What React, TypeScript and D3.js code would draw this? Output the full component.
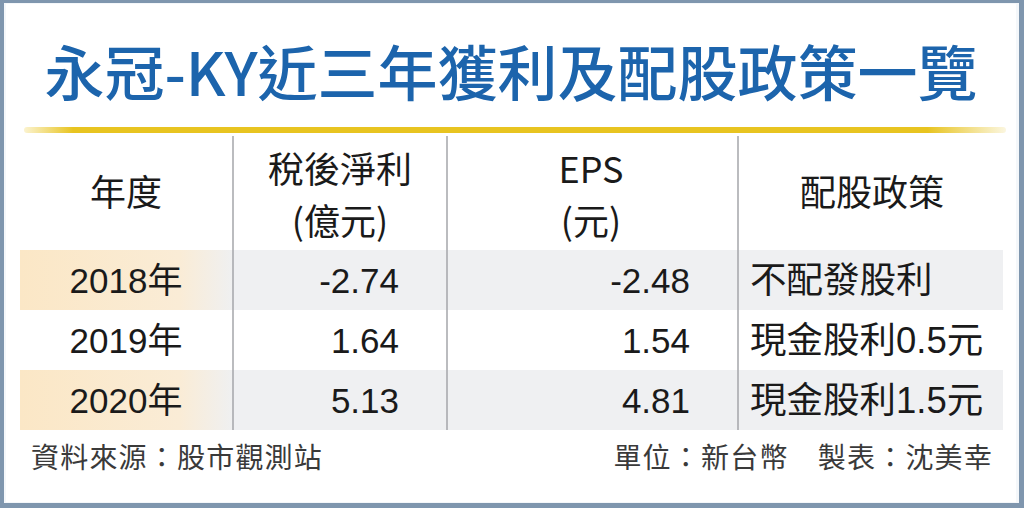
import React, { useRef, useEffect } from 'react';
import * as d3 from 'd3';

const title = '永冠-KY近三年獲利及配股政策一覽';
const headerLines = [['年度'], ['稅後淨利', '(億元)'], ['EPS', '(元)'], ['配股政策']];
const years = ['2018年', '2019年', '2020年'];
const netIncome = [-2.74, 1.64, 5.13];
const eps = [-2.48, 1.54, 4.81];
const policy = ['不配發股利', '現金股利0.5元', '現金股利1.5元'];
const sourceNote = '資料來源：股市觀測站';
const creditNote = '單位：新台幣　製表：沈美幸';

const App: React.FC = () => {
    const svgRef = useRef<SVGSVGElement | null>(null);
    const width = 1024, height = 508;

    useEffect(() => {
        if (!svgRef.current) return;
        const svg = d3.select(svgRef.current);
        svg.selectAll('*').remove();
        svg.attr('viewBox', `0 0 ${width} ${height}`);
        const font = '"Noto Sans CJK TC", "Noto Sans", sans-serif';
        const bodyFont = '"Liberation Sans", "Noto Sans CJK TC", sans-serif';

        const defs = svg.append('defs');
        const gold = defs.append('linearGradient').attr('id', 'gold');
        [[0, '#fbf3d0'], [0.05, '#e8c420'], [0.92, '#e8c420'], [1, '#fbf6e0']].forEach(([o, c]) =>
            gold.append('stop').attr('offset', o as number).attr('stop-color', c as string));
        const peach = defs.append('linearGradient').attr('id', 'peach');
        [[0, '#fbe7c6'], [0.75, '#faecd6'], [1, '#eff0f1']].forEach(([o, c]) =>
            peach.append('stop').attr('offset', o as number).attr('stop-color', c as string));

        // frame
        svg.append('rect').attr('width', width).attr('height', height).attr('fill', '#7f96ae');
        svg.append('rect').attr('x', 4).attr('y', 3).attr('width', width - 9).attr('height', height - 8)
            .attr('fill', '#f4f7fa');
        svg.append('rect').attr('x', 6).attr('y', 4).attr('width', width - 14).attr('height', height - 10)
            .attr('fill', '#ffffff');

        // title
        svg.append('text').attr('x', 511).attr('y', 96).attr('text-anchor', 'middle')
            .attr('font-family', font).attr('font-size', 60).attr('font-weight', 500)
            .attr('fill', '#1c64ac').text(title);
        svg.append('rect').attr('x', 24).attr('y', 127).attr('width', 982).attr('height', 6)
            .attr('rx', 3).attr('fill', 'url(#gold)');

        // layout
        const edges = [20, 233, 447, 738, 1003];
        const rowY = d3.scaleBand<number>().domain(d3.range(years.length)).range([250, 430]);

        // shaded rows
        d3.range(years.length).filter(i => i % 2 === 0).forEach(i => {
            svg.append('rect').attr('x', edges[1]).attr('y', rowY(i)!).attr('width', edges[4] - edges[1])
                .attr('height', rowY.bandwidth()).attr('fill', '#eff0f2');
            svg.append('rect').attr('x', edges[0]).attr('y', rowY(i)!).attr('width', edges[1] - edges[0])
                .attr('height', rowY.bandwidth()).attr('fill', 'url(#peach)');
        });

        // column dividers
        edges.slice(1, 4).forEach(x =>
            svg.append('line').attr('x1', x).attr('x2', x).attr('y1', 136).attr('y2', 430)
                .attr('stroke', '#a4a6aa').attr('stroke-width', 1.5));

        // header
        const headerX = [126, 340, 591, 872];
        headerLines.forEach((lines, c) => {
            const ys = lines.length === 1 ? [193] : [170, 222];
            lines.forEach((t, k) =>
                svg.append('text').attr('x', headerX[c]).attr('y', ys[k]).attr('dy', '0.36em')
                    .attr('text-anchor', 'middle').attr('font-family', font).attr('font-size', 36)
                    .attr('fill', '#1a1a1a').text(t));
        });

        // body
        const fmt = d3.formatLocale({ decimal: '.', thousands: ',', grouping: [3], currency: ['', ''], minus: '-' })
            .format('.2f');
        const cell = (x: number, i: number, t: string, anchor: string, size = 35) =>
            svg.append('text').attr('x', x).attr('y', rowY(i)! + rowY.bandwidth() / 2).attr('dy', '0.36em')
                .attr('text-anchor', anchor).attr('font-family', bodyFont).attr('font-size', size)
                .attr('fill', '#1a1a1a').text(t);
        years.forEach((y, i) => {
            cell(126, i, y, 'middle');
            cell(399, i, fmt(netIncome[i]), 'end');
            cell(690, i, fmt(eps[i]), 'end');
            cell(750, i, policy[i], 'start', 36.5);
        });

        // footer
        svg.append('text').attr('x', 31).attr('y', 458).attr('dy', '0.36em').attr('letter-spacing', 1.2)
            .attr('font-family', font).attr('font-size', 28).attr('fill', '#3a3a3a').text(sourceNote);
        svg.append('text').attr('x', 993).attr('y', 458).attr('dy', '0.36em').attr('text-anchor', 'end')
            .attr('letter-spacing', 1.2)
            .attr('font-family', font).attr('font-size', 28).attr('fill', '#3a3a3a').text(creditNote);
    }, []);

    return <svg ref={svgRef} width={width} height={height}
        style={{ position: 'absolute', left: 0, top: 0, display: 'block' }}></svg>;
};

export default App;
